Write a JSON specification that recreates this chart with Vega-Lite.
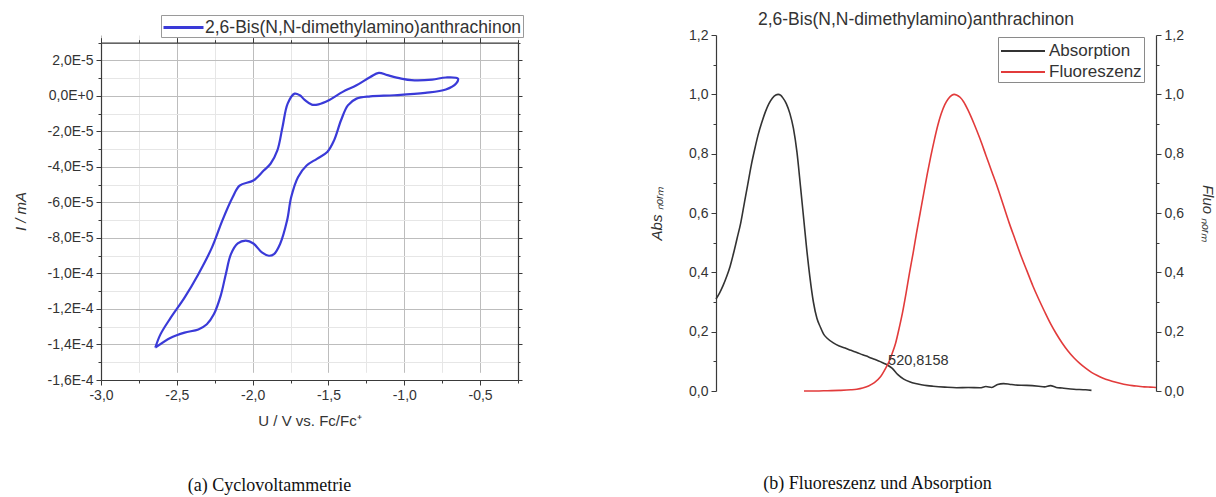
{
  "$schema": "https://vega.github.io/schema/vega-lite/v6.json",
  "background": "white",
  "padding": {"left": 13, "top": 10, "right": 5, "bottom": 5},
  "bounds": "flush",
  "spacing": 198,
  "resolve": {"scale": {"color": "independent"}},
  "config": {
    "view": {"stroke": null},
    "font": "Liberation Sans",
    "axis": {
      "domainColor": "#3a3a3a", "domainWidth": 1.2, "tickColor": "#3a3a3a", "tickWidth": 1,
      "labelFont": "Liberation Sans", "labelFontSize": 14, "labelColor": "#333333",
      "titleFont": "Liberation Sans", "titleFontSize": 15, "titleFontWeight": "normal", "titleColor": "#333333",
      "labelFlush": false, "labelOverlap": false, "labelBound": false, "labelPadding": 3
    },
    "legend": {"labelFont": "Liberation Sans", "labelColor": "#333333", "labelLimit": 0},
    "title": {"font": "Liberation Sans", "fontWeight": "normal", "color": "#333333"}
  },
  "hconcat": [
    {
      "width": 417,
      "height": 345,
      "title": {"text": "(a) Cyclovoltammetrie", "orient": "bottom", "anchor": "middle", "frame": "group", "dx": -40, "offset": 49, "font": "Liberation Serif", "fontSize": 18, "color": "#111111"},
      "data": {"values": [
        {"i": 1, "U": -2.642, "I": -1.418e-4, "s": "2,6-Bis(N,N-dimethylamino)anthrachinon"},
        {"i": 2, "U": -2.608, "I": -1.343e-4, "s": "2,6-Bis(N,N-dimethylamino)anthrachinon"},
        {"i": 3, "U": -2.540, "I": -1.249e-4, "s": "2,6-Bis(N,N-dimethylamino)anthrachinon"},
        {"i": 4, "U": -2.449, "I": -1.136e-4, "s": "2,6-Bis(N,N-dimethylamino)anthrachinon"},
        {"i": 5, "U": -2.358, "I": -1.004e-4, "s": "2,6-Bis(N,N-dimethylamino)anthrachinon"},
        {"i": 6, "U": -2.268, "I": -8.53e-5, "s": "2,6-Bis(N,N-dimethylamino)anthrachinon"},
        {"i": 7, "U": -2.200, "I": -7.02e-5, "s": "2,6-Bis(N,N-dimethylamino)anthrachinon"},
        {"i": 8, "U": -2.132, "I": -5.71e-5, "s": "2,6-Bis(N,N-dimethylamino)anthrachinon"},
        {"i": 9, "U": -2.086, "I": -5.05e-5, "s": "2,6-Bis(N,N-dimethylamino)anthrachinon"},
        {"i": 10, "U": -1.995, "I": -4.76e-5, "s": "2,6-Bis(N,N-dimethylamino)anthrachinon"},
        {"i": 11, "U": -1.927, "I": -4.2e-5, "s": "2,6-Bis(N,N-dimethylamino)anthrachinon"},
        {"i": 12, "U": -1.882, "I": -3.82e-5, "s": "2,6-Bis(N,N-dimethylamino)anthrachinon"},
        {"i": 13, "U": -1.837, "I": -3.07e-5, "s": "2,6-Bis(N,N-dimethylamino)anthrachinon"},
        {"i": 14, "U": -1.803, "I": -1.75e-5, "s": "2,6-Bis(N,N-dimethylamino)anthrachinon"},
        {"i": 15, "U": -1.769, "I": -4.3e-6, "s": "2,6-Bis(N,N-dimethylamino)anthrachinon"},
        {"i": 16, "U": -1.723, "I": 1.3e-6, "s": "2,6-Bis(N,N-dimethylamino)anthrachinon"},
        {"i": 17, "U": -1.689, "I": 4e-7, "s": "2,6-Bis(N,N-dimethylamino)anthrachinon"},
        {"i": 18, "U": -1.655, "I": -2.4e-6, "s": "2,6-Bis(N,N-dimethylamino)anthrachinon"},
        {"i": 19, "U": -1.610, "I": -4.9e-6, "s": "2,6-Bis(N,N-dimethylamino)anthrachinon"},
        {"i": 20, "U": -1.565, "I": -4.7e-6, "s": "2,6-Bis(N,N-dimethylamino)anthrachinon"},
        {"i": 21, "U": -1.497, "I": -2.4e-6, "s": "2,6-Bis(N,N-dimethylamino)anthrachinon"},
        {"i": 22, "U": -1.406, "I": 2.3e-6, "s": "2,6-Bis(N,N-dimethylamino)anthrachinon"},
        {"i": 23, "U": -1.315, "I": 6e-6, "s": "2,6-Bis(N,N-dimethylamino)anthrachinon"},
        {"i": 24, "U": -1.224, "I": 1.07e-5, "s": "2,6-Bis(N,N-dimethylamino)anthrachinon"},
        {"i": 25, "U": -1.168, "I": 1.3e-5, "s": "2,6-Bis(N,N-dimethylamino)anthrachinon"},
        {"i": 26, "U": -1.111, "I": 1.17e-5, "s": "2,6-Bis(N,N-dimethylamino)anthrachinon"},
        {"i": 27, "U": -1.020, "I": 9.8e-6, "s": "2,6-Bis(N,N-dimethylamino)anthrachinon"},
        {"i": 28, "U": -0.952, "I": 8.9e-6, "s": "2,6-Bis(N,N-dimethylamino)anthrachinon"},
        {"i": 29, "U": -0.816, "I": 9.2e-6, "s": "2,6-Bis(N,N-dimethylamino)anthrachinon"},
        {"i": 30, "U": -0.726, "I": 1.04e-5, "s": "2,6-Bis(N,N-dimethylamino)anthrachinon"},
        {"i": 31, "U": -0.646, "I": 9.8e-6, "s": "2,6-Bis(N,N-dimethylamino)anthrachinon"},
        {"i": 32, "U": -0.658, "I": 7e-6, "s": "2,6-Bis(N,N-dimethylamino)anthrachinon"},
        {"i": 33, "U": -0.726, "I": 3.6e-6, "s": "2,6-Bis(N,N-dimethylamino)anthrachinon"},
        {"i": 34, "U": -0.862, "I": 1.7e-6, "s": "2,6-Bis(N,N-dimethylamino)anthrachinon"},
        {"i": 35, "U": -1.066, "I": 4e-7, "s": "2,6-Bis(N,N-dimethylamino)anthrachinon"},
        {"i": 36, "U": -1.224, "I": -2e-7, "s": "2,6-Bis(N,N-dimethylamino)anthrachinon"},
        {"i": 37, "U": -1.315, "I": -1.5e-6, "s": "2,6-Bis(N,N-dimethylamino)anthrachinon"},
        {"i": 38, "U": -1.372, "I": -5.3e-6, "s": "2,6-Bis(N,N-dimethylamino)anthrachinon"},
        {"i": 39, "U": -1.417, "I": -1.37e-5, "s": "2,6-Bis(N,N-dimethylamino)anthrachinon"},
        {"i": 40, "U": -1.463, "I": -2.5e-5, "s": "2,6-Bis(N,N-dimethylamino)anthrachinon"},
        {"i": 41, "U": -1.508, "I": -3.16e-5, "s": "2,6-Bis(N,N-dimethylamino)anthrachinon"},
        {"i": 42, "U": -1.576, "I": -3.54e-5, "s": "2,6-Bis(N,N-dimethylamino)anthrachinon"},
        {"i": 43, "U": -1.644, "I": -3.92e-5, "s": "2,6-Bis(N,N-dimethylamino)anthrachinon"},
        {"i": 44, "U": -1.701, "I": -4.58e-5, "s": "2,6-Bis(N,N-dimethylamino)anthrachinon"},
        {"i": 45, "U": -1.746, "I": -5.71e-5, "s": "2,6-Bis(N,N-dimethylamino)anthrachinon"},
        {"i": 46, "U": -1.773, "I": -7.02e-5, "s": "2,6-Bis(N,N-dimethylamino)anthrachinon"},
        {"i": 47, "U": -1.819, "I": -8.34e-5, "s": "2,6-Bis(N,N-dimethylamino)anthrachinon"},
        {"i": 48, "U": -1.859, "I": -8.91e-5, "s": "2,6-Bis(N,N-dimethylamino)anthrachinon"},
        {"i": 49, "U": -1.893, "I": -9e-5, "s": "2,6-Bis(N,N-dimethylamino)anthrachinon"},
        {"i": 50, "U": -1.939, "I": -8.81e-5, "s": "2,6-Bis(N,N-dimethylamino)anthrachinon"},
        {"i": 51, "U": -1.995, "I": -8.31e-5, "s": "2,6-Bis(N,N-dimethylamino)anthrachinon"},
        {"i": 52, "U": -2.045, "I": -8.15e-5, "s": "2,6-Bis(N,N-dimethylamino)anthrachinon"},
        {"i": 53, "U": -2.098, "I": -8.31e-5, "s": "2,6-Bis(N,N-dimethylamino)anthrachinon"},
        {"i": 54, "U": -2.143, "I": -8.91e-5, "s": "2,6-Bis(N,N-dimethylamino)anthrachinon"},
        {"i": 55, "U": -2.177, "I": -1.004e-4, "s": "2,6-Bis(N,N-dimethylamino)anthrachinon"},
        {"i": 56, "U": -2.211, "I": -1.126e-4, "s": "2,6-Bis(N,N-dimethylamino)anthrachinon"},
        {"i": 57, "U": -2.256, "I": -1.23e-4, "s": "2,6-Bis(N,N-dimethylamino)anthrachinon"},
        {"i": 58, "U": -2.302, "I": -1.286e-4, "s": "2,6-Bis(N,N-dimethylamino)anthrachinon"},
        {"i": 59, "U": -2.358, "I": -1.315e-4, "s": "2,6-Bis(N,N-dimethylamino)anthrachinon"},
        {"i": 60, "U": -2.449, "I": -1.333e-4, "s": "2,6-Bis(N,N-dimethylamino)anthrachinon"},
        {"i": 61, "U": -2.540, "I": -1.362e-4, "s": "2,6-Bis(N,N-dimethylamino)anthrachinon"},
        {"i": 62, "U": -2.642, "I": -1.418e-4, "s": "2,6-Bis(N,N-dimethylamino)anthrachinon"}
      ]},
      "layer": [
        {
          "mark": {"type": "line", "strokeWidth": 2.2, "interpolate": "catmull-rom"},
          "encoding": {
            "x": {"field": "U", "type": "quantitative",
              "scale": {"domain": [-3.0, -0.25], "nice": false, "zero": false},
              "axis": {"orient": "bottom",
                "values": [-3, -2.75, -2.5, -2.25, -2, -1.75, -1.5, -1.25, -1, -0.75, -0.5, -0.25],
                "grid": true,
                "gridColor": {"condition": {"test": "abs(round(datum.value*100)) % 50 == 0", "value": "#bdbdbd"}, "value": "#e6e6e6"},
                "tickSize": {"condition": {"test": "abs(round(datum.value*100)) % 50 == 0", "value": 5}, "value": 3},
                "labelExpr": "abs(round(datum.value*100)) % 50 == 0 ? replace(replace(format(datum.value, '.1f'), '.', ','), '\u2212', '-') : ''",
                "title": "U / V vs. Fc/Fc\u207a", "titleX": 208.5, "titleY": 40, "titleBaseline": "middle"}},
            "y": {"field": "I", "type": "quantitative",
              "scale": {"domain": [-1.6e-4, 3e-5], "range": [345, 7.7], "nice": false, "zero": false},
              "axis": {"orient": "left",
                "values": [-1.6e-4, -1.5e-4, -1.4e-4, -1.3e-4, -1.2e-4, -1.1e-4, -1e-4, -9e-5, -8e-5, -7e-5, -6e-5, -5e-5, -4e-5, -3e-5, -2e-5, -1e-5, 0, 1e-5, 2e-5, 3e-5],
                "grid": true,
                "gridColor": {"condition": {"test": "abs(round(datum.value*1e6)) % 20 == 0", "value": "#bdbdbd"}, "value": "#e6e6e6"},
                "tickSize": {"condition": {"test": "abs(round(datum.value*1e6)) % 20 == 0", "value": 5}, "value": 3},
                "labelExpr": "abs(round(datum.value*1e6)) % 20 == 0 ? replace(replace(replace(format(datum.value, '.1e'), '.', ','), 'e', 'E'), '\u2212', '-') : ''",
                "title": "I / mA", "titleX": -81, "titleY": 176, "titleBaseline": "middle", "titleFontStyle": "italic"}},
            "order": {"field": "i", "type": "quantitative"},
            "color": {"field": "s", "type": "nominal",
              "scale": {"range": ["#3a3ad8"]},
              "legend": {"orient": "none", "legendX": 60, "legendY": -20, "title": null, "direction": "horizontal",
                "symbolType": "M-2,0H2", "symbolSize": 400, "symbolStrokeWidth": 3, "symbolOffset": 10,
                "labelFontSize": 17.5, "labelOffset": 10, "padding": 1,
                "strokeColor": "#9a9a9a", "fillColor": "white"}}
          }
        },
        {
          "mark": {"type": "point", "opacity": 0},
          "encoding": {
            "x": {"field": "U", "type": "quantitative",
              "axis": {"orient": "top", "values": [-3, -2.75, -2.5, -2.25, -2, -1.75, -1.5, -1.25, -1, -0.75, -0.5, -0.25],
                "labels": false, "grid": false, "title": null, "offset": -7.7,
                "tickSize": {"condition": {"test": "abs(round(datum.value*100)) % 50 == 0", "value": 5}, "value": 3}}},
            "y": {"field": "I", "type": "quantitative",
              "axis": {"orient": "right",
                "values": [-1.6e-4, -1.5e-4, -1.4e-4, -1.3e-4, -1.2e-4, -1.1e-4, -1e-4, -9e-5, -8e-5, -7e-5, -6e-5, -5e-5, -4e-5, -3e-5, -2e-5, -1e-5, 0, 1e-5, 2e-5, 3e-5],
                "labels": false, "grid": false, "title": null, "domain": true, "ticks": true,
                "tickSize": {"condition": {"test": "abs(round(datum.value*1e6)) % 20 == 0", "value": 4}, "value": 2}}}
          }
        }
      ],
      "resolve": {"axis": {"x": "independent", "y": "independent"}}
    },
    {
      "title": {"text": "(b) Fluoreszenz und Absorption", "orient": "bottom", "anchor": "middle", "dx": -54, "offset": 77, "font": "Liberation Serif", "fontSize": 18, "color": "#111111"},
      "vconcat": [
        {
          "width": 440,
          "height": 356,
          "title": {"text": "2,6-Bis(N,N-dimethylamino)anthrachinon", "anchor": "middle", "frame": "group", "dx": -20, "offset": 0, "fontSize": 17.5},
          "layer": [
            {
              "data": {"values": [
                {"nm": 375, "v": 0.31}, {"nm": 378, "v": 0.33}, {"nm": 381, "v": 0.355}, {"nm": 384, "v": 0.385},
                {"nm": 387, "v": 0.42}, {"nm": 390, "v": 0.465}, {"nm": 393, "v": 0.515}, {"nm": 396, "v": 0.565},
                {"nm": 399, "v": 0.63}, {"nm": 402, "v": 0.695}, {"nm": 405, "v": 0.76}, {"nm": 408, "v": 0.815},
                {"nm": 411, "v": 0.865}, {"nm": 414, "v": 0.905}, {"nm": 417, "v": 0.94}, {"nm": 420, "v": 0.968},
                {"nm": 423, "v": 0.987}, {"nm": 426, "v": 0.998}, {"nm": 428, "v": 1.0}, {"nm": 430, "v": 0.997},
                {"nm": 432, "v": 0.988}, {"nm": 435, "v": 0.968}, {"nm": 438, "v": 0.935}, {"nm": 441, "v": 0.885},
                {"nm": 444, "v": 0.805}, {"nm": 447, "v": 0.69}, {"nm": 450, "v": 0.57}, {"nm": 452, "v": 0.49},
                {"nm": 455, "v": 0.385}, {"nm": 458, "v": 0.3}, {"nm": 461, "v": 0.245}, {"nm": 464, "v": 0.215},
                {"nm": 467, "v": 0.19}, {"nm": 470, "v": 0.177}, {"nm": 475, "v": 0.162}, {"nm": 480, "v": 0.152},
                {"nm": 485, "v": 0.145}, {"nm": 490, "v": 0.137}, {"nm": 495, "v": 0.13}, {"nm": 500, "v": 0.122},
                {"nm": 505, "v": 0.115}, {"nm": 510, "v": 0.107}, {"nm": 515, "v": 0.099}, {"nm": 520, "v": 0.09},
                {"nm": 525, "v": 0.077}, {"nm": 530, "v": 0.055}, {"nm": 535, "v": 0.04}, {"nm": 540, "v": 0.031},
                {"nm": 545, "v": 0.025}, {"nm": 550, "v": 0.021}, {"nm": 555, "v": 0.018}, {"nm": 560, "v": 0.016},
                {"nm": 570, "v": 0.013}, {"nm": 580, "v": 0.011}, {"nm": 590, "v": 0.012}, {"nm": 600, "v": 0.011},
                {"nm": 605, "v": 0.015}, {"nm": 610, "v": 0.012}, {"nm": 615, "v": 0.022}, {"nm": 620, "v": 0.025},
                {"nm": 625, "v": 0.023}, {"nm": 630, "v": 0.02}, {"nm": 640, "v": 0.019}, {"nm": 650, "v": 0.016},
                {"nm": 655, "v": 0.014}, {"nm": 660, "v": 0.018}, {"nm": 665, "v": 0.012}, {"nm": 670, "v": 0.01},
                {"nm": 680, "v": 0.006}, {"nm": 690, "v": 0.004}, {"nm": 695, "v": 0.002}
              ]},
              "transform": [{"calculate": "'Absorption'", "as": "k"}],
              "mark": {"type": "line", "strokeWidth": 1.6, "interpolate": "monotone"},
              "encoding": {
                "x": {"field": "nm", "type": "quantitative",
                  "scale": {"domain": [375, 750], "nice": false, "zero": false},
                  "axis": {"orient": "bottom",
                    "values": [375, 400, 425, 450, 475, 500, 525, 550, 575, 600, 625, 650, 675, 700, 725, 750],
                    "tickSize": {"condition": {"test": "datum.value % 50 == 0", "value": 5}, "value": 3},
                    "labelExpr": "datum.value % 50 == 0 ? datum.label : ''",
                    "grid": false, "title": "\u03bb / nm", "titleY": 49, "titleBaseline": "middle"}},
                "y": {"field": "v", "type": "quantitative",
                  "scale": {"domain": [0, 1.2], "nice": false, "zero": false},
                  "axis": {"orient": "left",
                    "values": [0, 0.1, 0.2, 0.3, 0.4, 0.5, 0.6, 0.7, 0.8, 0.9, 1, 1.1, 1.2],
                    "tickSize": {"condition": {"test": "round(datum.value*10) % 2 == 0", "value": 5}, "value": 3},
                    "labelExpr": "round(datum.value*10) % 2 == 0 ? replace(format(datum.value, '.1f'), '.', ',') : ''",
                    "grid": false, "title": "Abs \u2099\u2092\u1d63\u2098", "titleX": -60, "titleY": 178, "titleBaseline": "middle", "titleFontStyle": "italic"}},
                "color": {"field": "k", "type": "nominal",
                  "scale": {"domain": ["Absorption", "Fluoreszenz"], "range": ["#333333", "#e23b3b"]},
                  "legend": {"orient": "none", "legendX": 282, "legendY": 2, "title": null, "direction": "vertical",
                    "symbolType": "M-2,0H2", "symbolSize": 484, "symbolStrokeWidth": 2, "symbolOffset": 11,
                    "labelFontSize": 17, "labelOffset": 14, "rowPadding": 1, "padding": 2,
                    "strokeColor": "#8a8a8a", "fillColor": "white"}}
              }
            },
            {
              "data": {"values": [
                {"nm": 450, "v": 0.0}, {"nm": 460, "v": 0.0}, {"nm": 470, "v": 0.001}, {"nm": 480, "v": 0.002},
                {"nm": 490, "v": 0.004}, {"nm": 495, "v": 0.006}, {"nm": 500, "v": 0.01}, {"nm": 505, "v": 0.017},
                {"nm": 510, "v": 0.028}, {"nm": 515, "v": 0.047}, {"nm": 520, "v": 0.08}, {"nm": 522, "v": 0.095},
                {"nm": 525, "v": 0.125}, {"nm": 528, "v": 0.16}, {"nm": 531, "v": 0.21}, {"nm": 534, "v": 0.265},
                {"nm": 537, "v": 0.33}, {"nm": 540, "v": 0.4}, {"nm": 543, "v": 0.465}, {"nm": 546, "v": 0.535},
                {"nm": 549, "v": 0.6}, {"nm": 552, "v": 0.665}, {"nm": 555, "v": 0.73}, {"nm": 558, "v": 0.79},
                {"nm": 561, "v": 0.845}, {"nm": 564, "v": 0.895}, {"nm": 567, "v": 0.935}, {"nm": 570, "v": 0.965},
                {"nm": 573, "v": 0.985}, {"nm": 576, "v": 0.997}, {"nm": 578, "v": 1.0}, {"nm": 580, "v": 0.998},
                {"nm": 583, "v": 0.99}, {"nm": 586, "v": 0.975}, {"nm": 590, "v": 0.945}, {"nm": 595, "v": 0.9},
                {"nm": 600, "v": 0.85}, {"nm": 605, "v": 0.795}, {"nm": 610, "v": 0.74}, {"nm": 615, "v": 0.685},
                {"nm": 620, "v": 0.625}, {"nm": 625, "v": 0.565}, {"nm": 630, "v": 0.51}, {"nm": 635, "v": 0.455},
                {"nm": 640, "v": 0.405}, {"nm": 645, "v": 0.355}, {"nm": 650, "v": 0.31}, {"nm": 655, "v": 0.268},
                {"nm": 660, "v": 0.228}, {"nm": 665, "v": 0.193}, {"nm": 670, "v": 0.162}, {"nm": 675, "v": 0.135},
                {"nm": 680, "v": 0.112}, {"nm": 685, "v": 0.093}, {"nm": 690, "v": 0.077}, {"nm": 695, "v": 0.063},
                {"nm": 700, "v": 0.052}, {"nm": 705, "v": 0.043}, {"nm": 710, "v": 0.036}, {"nm": 715, "v": 0.03},
                {"nm": 720, "v": 0.025}, {"nm": 725, "v": 0.021}, {"nm": 730, "v": 0.018}, {"nm": 735, "v": 0.016},
                {"nm": 740, "v": 0.014}, {"nm": 745, "v": 0.013}, {"nm": 750, "v": 0.012}
              ]},
              "transform": [{"calculate": "'Fluoreszenz'", "as": "k"}],
              "mark": {"type": "line", "strokeWidth": 1.6, "interpolate": "monotone"},
              "encoding": {
                "x": {"field": "nm", "type": "quantitative", "axis": null},
                "y": {"field": "v", "type": "quantitative",
                  "axis": {"orient": "right",
                    "values": [0, 0.1, 0.2, 0.3, 0.4, 0.5, 0.6, 0.7, 0.8, 0.9, 1, 1.1, 1.2],
                    "tickSize": {"condition": {"test": "round(datum.value*10) % 2 == 0", "value": 5}, "value": 3},
                    "labelExpr": "round(datum.value*10) % 2 == 0 ? replace(format(datum.value, '.1f'), '.', ',') : ''",
                    "grid": false, "title": "Fluo \u2099\u2092\u1d63\u2098", "titleX": 51, "titleY": 178, "titleAngle": 90, "titleBaseline": "middle", "titleFontStyle": "italic"}},
                "color": {"field": "k", "type": "nominal"}
              }
            },
            {
              "data": {"values": [{"nm": 520.8, "v": 0.1, "t": "520,8158"}]},
              "mark": {"type": "text", "align": "left", "baseline": "middle", "fontSize": 14.5, "color": "#333333", "dx": 1},
              "encoding": {
                "x": {"field": "nm", "type": "quantitative", "axis": null},
                "y": {"field": "v", "type": "quantitative", "axis": null},
                "text": {"field": "t"}
              }
            }
          ],
          "resolve": {"axis": {"y": "independent"}}
        }
      ]
    }
  ]
}
